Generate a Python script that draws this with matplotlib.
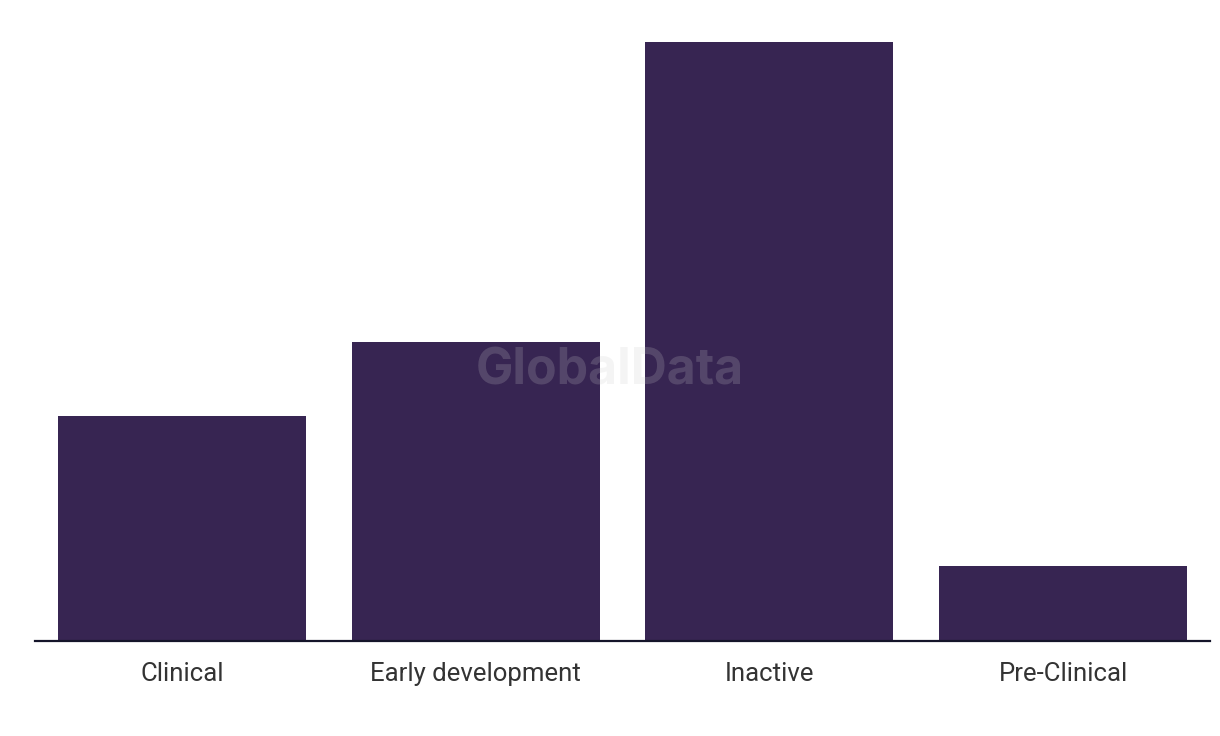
import matplotlib
matplotlib.use("Agg")
import matplotlib.pyplot as plt

# data
stages = ["Clinical", "Early development", "Inactive", "Pre-Clinical"]
counts = [3, 4, 8, 1]

bar_color = "#372552"

fig = plt.figure(figsize=(12.2, 7.36), dpi=100)
ax = fig.add_axes([35/1220, 1-641/736, 1175/1220, 599/736])

ax.bar(range(len(stages)), counts, width=0.845, color=bar_color, clip_on=False)
ax.set_xlim(-0.5, len(stages)-0.5)
ax.set_ylim(0, 8)

for s in ["top", "right", "left"]:
    ax.spines[s].set_visible(False)
ax.spines["bottom"].set_color("#15152a")
ax.spines["bottom"].set_linewidth(1.6)
ax.set_yticks([])
ax.set_xticks(range(len(stages)))
ax.set_xticklabels(stages, fontsize=18.5, color="#333333", family="Roboto")
ax.tick_params(axis="x", length=0, pad=15)

# watermark
fig.text(610/1220, 1-371/736, "GlobalData", fontsize=36, fontweight="bold",
         family="Inter", color="#cccccc", alpha=0.2, ha="center", va="center")

fig.savefig("out.png", dpi=100)
